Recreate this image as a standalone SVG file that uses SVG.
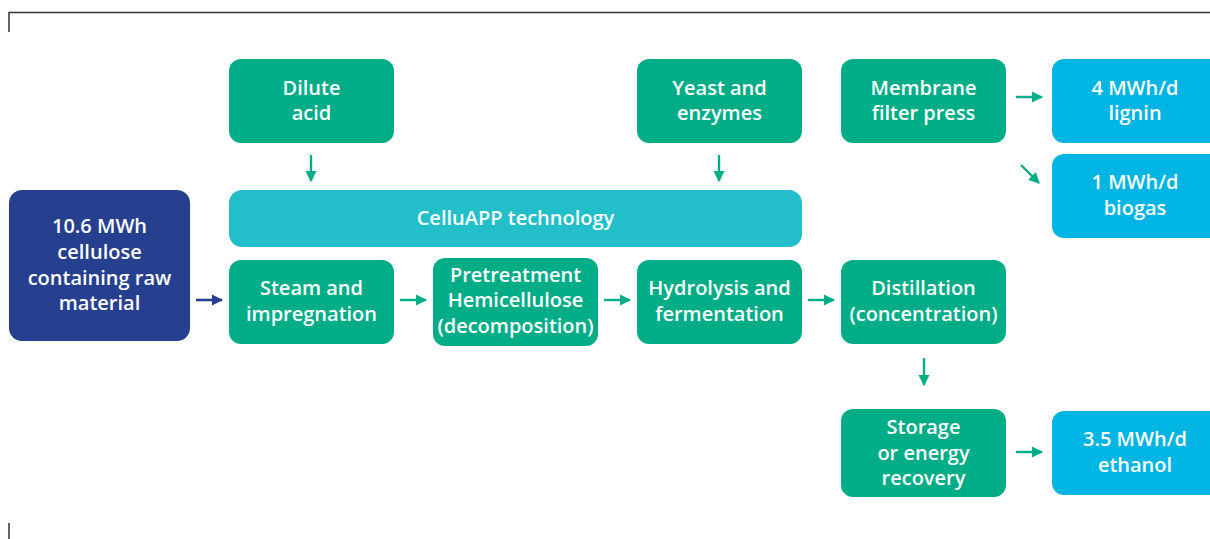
<svg xmlns="http://www.w3.org/2000/svg" width="1210" height="539" viewBox="0 0 1210 539">
<style>
.g{fill:#00ad87}.b{fill:#00b4e4}.t{fill:#22bfca}.d{fill:#26408f}
text{font-family:"Open Sans",Lato,"Liberation Sans",sans-serif;font-weight:600;font-size:20px;fill:#fff;text-anchor:middle}
.c{stroke:#00ad87;stroke-width:2.4;fill:none;marker-end:url(#ah)}
.cd{stroke:#26408f;stroke-width:2.6;fill:none;marker-end:url(#ahd)}
</style>
<defs>
<marker id="ah" viewBox="0 0 10 10" refX="9" refY="5" markerWidth="4.6" markerHeight="4.6" orient="auto" markerUnits="strokeWidth"><path d="M0,0 L10,5 L0,10 z" fill="#00ad87"/></marker>
<marker id="ahd" viewBox="0 0 10 10" refX="9" refY="5" markerWidth="4.4" markerHeight="4.4" orient="auto" markerUnits="strokeWidth"><path d="M0,0 L10,5 L0,10 z" fill="#26408f"/></marker>
</defs>
<path d="M9,32 V12.5 H1210" stroke="#333" stroke-width="1.5" fill="none"/>
<path d="M9,523 V539" stroke="#333" stroke-width="1.5" fill="none"/>
<g id="raw"><rect class="d" x="9" y="190" width="181" height="151" rx="13"/><text x="99.5" y="233">10.6 MWh</text><text x="99.5" y="259">cellulose</text><text x="99.5" y="285">containing raw</text><text x="99.5" y="310">material</text></g>
<g id="acid"><rect class="g" x="229" y="59" width="165" height="84" rx="12"/><text x="311.5" y="95">Dilute</text><text x="311.5" y="120">acid</text></g>
<g id="yeast"><rect class="g" x="637" y="59" width="165" height="84" rx="12"/><text x="719.5" y="95">Yeast and</text><text x="719.5" y="120">enzymes</text></g>
<g id="membrane"><rect class="g" x="841" y="59" width="165" height="84" rx="12"/><text x="923.5" y="95">Membrane</text><text x="923.5" y="120">filter press</text></g>
<g id="lignin"><rect class="b" x="1052" y="59" width="175" height="84" rx="12"/><text x="1135" y="95">4 MWh/d</text><text x="1135" y="120">lignin</text></g>
<g id="biogas"><rect class="b" x="1052" y="154" width="175" height="84" rx="12"/><text x="1135" y="189">1 MWh/d</text><text x="1135" y="215">biogas</text></g>
<g id="celluapp"><rect class="t" x="229" y="190" width="573" height="57" rx="13"/><text x="515.5" y="225">CelluAPP technology</text></g>
<g id="steam"><rect class="g" x="229" y="260" width="165" height="84" rx="12"/><text x="311.5" y="295">Steam and</text><text x="311.5" y="321">impregnation</text></g>
<g id="pretreat"><rect class="g" x="433" y="258" width="165" height="88" rx="12"/><text x="515.5" y="282">Pretreatment</text><text x="515.5" y="307">Hemicellulose</text><text x="515.5" y="333">(decomposition)</text></g>
<g id="hydro"><rect class="g" x="637" y="260" width="165" height="84" rx="12"/><text x="719.5" y="295">Hydrolysis and</text><text x="719.5" y="321">fermentation</text></g>
<g id="distill"><rect class="g" x="841" y="260" width="165" height="84" rx="12"/><text x="923.5" y="295">Distillation</text><text x="923.5" y="321">(concentration)</text></g>
<g id="storage"><rect class="g" x="841" y="409" width="165" height="88" rx="12"/><text x="923.5" y="434">Storage</text><text x="923.5" y="460">or energy</text><text x="923.5" y="485">recovery</text></g>
<g id="ethanol"><rect class="b" x="1052" y="411" width="175" height="84" rx="12"/><text x="1135" y="446">3.5 MWh/d</text><text x="1135" y="472">ethanol</text></g>
<g id="connectors">
<path class="cd" d="M196,300 H222"/>
<path class="c" d="M311,155 V181"/>
<path class="c" d="M719,155 V181"/>
<path class="c" d="M400,300 H426"/>
<path class="c" d="M604,300 H630"/>
<path class="c" d="M808,300 H834"/>
<path class="c" d="M1016,97 H1042"/>
<path class="c" d="M1021,165 L1039,183"/>
<path class="c" d="M924,358 V385"/>
<path class="c" d="M1016,452 H1042"/>
</g>
</svg>
